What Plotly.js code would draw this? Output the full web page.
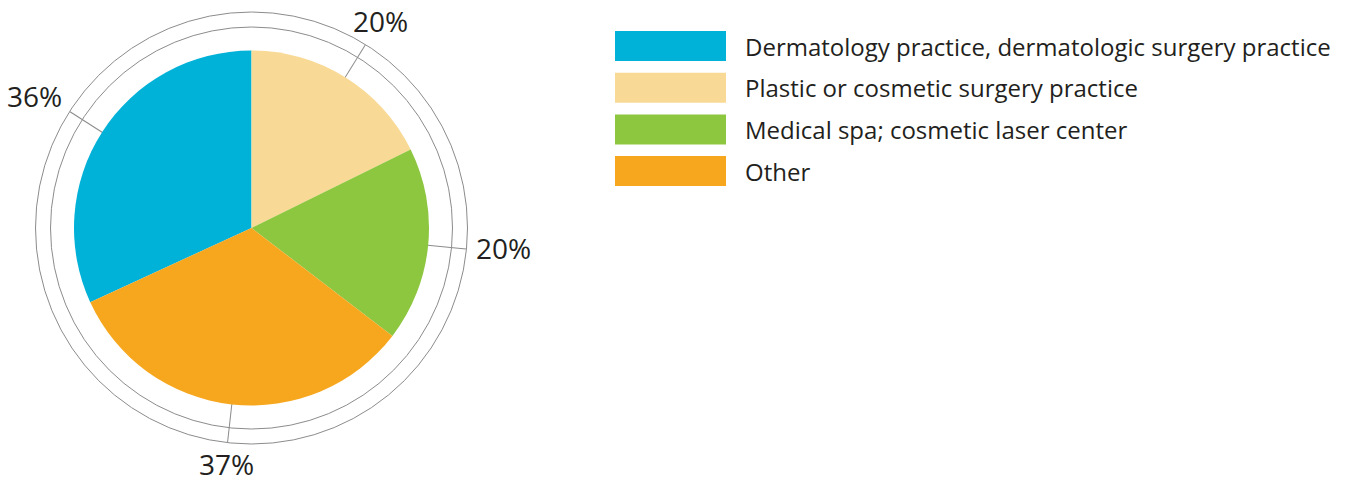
<!DOCTYPE html>
<html>
<head>
<meta charset="utf-8">
<script src="https://cdn.plot.ly/plotly-3.0.1.min.js"></script>
<style>
  html, body { margin: 0; padding: 0; background: #ffffff; }
  #chart { width: 1349px; height: 483px; }
  #chart text { font-variant-ligatures: none; }
</style>
</head>
<body>
<div id="chart"></div>
<script>
// Practice setting categories and their shares (%)
const categories = [
  'Dermatology practice, dermatologic surgery practice',
  'Plastic or cosmetic surgery practice',
  'Medical spa; cosmetic laser center',
  'Other'
];
const shares = [36, 20, 20, 37];
const shareLabels = ['36%', '20%', '20%', '37%'];
const sliceColors = ['#00B1D8', '#F8DA96', '#8DC63F', '#F7A71E'];

// Page geometry (px)
const W = 1349, H = 483;
const CX = 251.5, CY = 228;          // pie centre, measured from top-left
const R_PIE = 177.5;                 // filled pie
const R_OUT = 216, R_IN = 201;       // the two guide rings
const LABEL_R = 227;                 // where the percentage labels sit
const LABEL_HALF_W = 26, LABEL_HALF_H = 13;
const RING = '#8C8C8C';
const INK = '#231F20';
const FONT = '"Open Sans", "Noto Sans", sans-serif';

function domainFor(r) {
  return {
    x: [(CX - r) / W, (CX + r) / W],
    y: [(H - CY - r) / H, (H - CY + r) / H]
  };
}

// First slice ends at 12 o'clock, slices run clockwise
const total = shares.reduce((a, b) => a + b, 0);
const startAngle = 360 - 360 * shares[0] / total;
const midAngles = [];
let acc = startAngle;
shares.forEach(v => {
  const span = 360 * v / total;
  midAngles.push((acc + span / 2) % 360);
  acc += span;
});

const pieTrace = {
  type: 'pie',
  values: shares,
  labels: categories,
  sort: false,
  direction: 'clockwise',
  rotation: startAngle - 360,
  textinfo: 'none',
  hoverinfo: 'label+value',
  marker: { colors: sliceColors, line: { width: 0 } },
  domain: domainFor(R_PIE),
  showlegend: false
};

// Carrier for the polar frame that draws the rings and the leader ticks
const frameTrace = {
  type: 'scatterpolar',
  r: midAngles.map(() => R_OUT),
  theta: midAngles,
  mode: 'none',
  hoverinfo: 'skip',
  showlegend: false
};

const annotations = [];
const shapes = [];

// Percentage labels just beyond the outer ring, at each slice's mid angle;
// labels on the sides hang off the ring, labels near top/bottom are centred
midAngles.forEach((a, i) => {
  const rad = a * Math.PI / 180;
  const s = Math.sin(rad), c = Math.cos(rad);
  const side = Math.max(0, Math.min(1, (Math.abs(s) - 0.35) / 0.5));
  annotations.push({
    xref: 'paper', yref: 'paper',
    x: CX / W, y: (H - CY) / H,
    xanchor: 'center', yanchor: 'middle',
    xshift: LABEL_R * s + Math.sign(s) * LABEL_HALF_W * side,
    yshift: (LABEL_R + LABEL_HALF_H) * c + 3,
    text: shareLabels[i],
    showarrow: false,
    borderpad: 0,
    font: { family: FONT, size: 28, color: INK }
  });
});

// Legend: colour swatch + category name per row
const LEG_X0 = 615, LEG_X1 = 726, LEG_TEXT_X = 743;
const LEG_TOP = 31, LEG_STEP = 41.7, LEG_H = 30;
categories.forEach((name, i) => {
  const top = LEG_TOP + i * LEG_STEP;
  shapes.push({
    type: 'rect', xref: 'paper', yref: 'paper',
    x0: LEG_X0 / W, x1: LEG_X1 / W,
    y0: 1 - (top + LEG_H) / H, y1: 1 - top / H,
    fillcolor: sliceColors[i], line: { width: 0 }
  });
  annotations.push({
    xref: 'paper', yref: 'paper',
    x: LEG_TEXT_X / W, y: 1 - (top + LEG_H / 2) / H,
    xanchor: 'left', yanchor: 'middle',
    text: name, showarrow: false,
    font: { family: FONT, size: 24, color: INK }
  });
});

const layout = {
  width: W, height: H,
  margin: { l: 0, r: 0, t: 0, b: 0, pad: 0 },
  paper_bgcolor: '#ffffff',
  plot_bgcolor: '#ffffff',
  showlegend: false,
  font: { family: FONT, color: INK },
  polar: {
    domain: domainFor(R_OUT),
    bgcolor: 'rgba(0,0,0,0)',
    angularaxis: {
      direction: 'clockwise',
      rotation: 90,
      tickmode: 'array',
      tickvals: midAngles,
      ticks: 'inside',
      ticklen: R_OUT - R_PIE,
      tickwidth: 1,
      tickcolor: RING,
      showline: true,
      linecolor: RING,
      linewidth: 1,
      showgrid: false,
      showticklabels: false
    },
    radialaxis: {
      range: [0, R_OUT],
      tickmode: 'array',
      tickvals: [R_IN],
      showgrid: true,
      gridcolor: RING,
      gridwidth: 1,
      showline: false,
      showticklabels: false,
      ticks: ''
    }
  },
  shapes: shapes,
  annotations: annotations
};

Plotly.newPlot('chart', [frameTrace, pieTrace], layout, { displayModeBar: false, responsive: false });
</script>
</body>
</html>
